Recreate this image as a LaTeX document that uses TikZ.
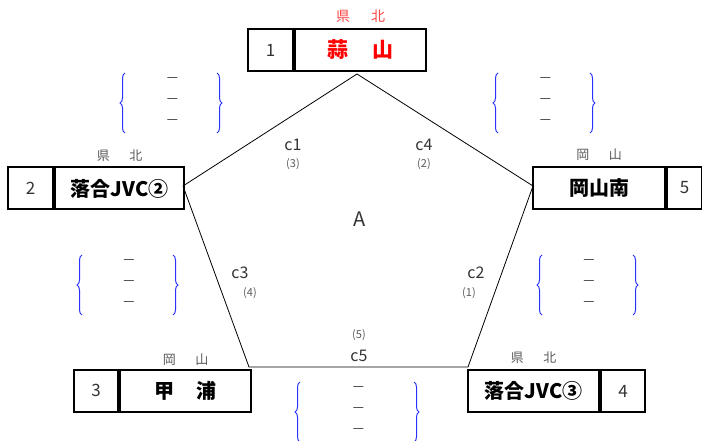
\documentclass[tikz,border=0pt]{standalone}
\usepackage{fontspec}
\setmainfont{Noto Sans CJK JP}
\usepackage{tikz}
\usetikzlibrary{positioning}
\usetikzlibrary{decorations.pathreplacing}
\definecolor{bracecol}{RGB}{40,50,250}
\definecolor{labelgray}{RGB}{90,90,90}
\definecolor{labelred}{RGB}{250,70,70}
\newcommand{\bracegroup}[4]{\draw[curly] (#2,#4+60) -- (#2,#4); \draw[curly] (#3,#4) -- (#3,#4+60);
  \node[scoremark] (#1a) at ({(#2+#3)/2+1.5},#4+7) {—};
  \node[scoremark] (#1b) at ({(#2+#3)/2+1.5},#4+28) {—};
  \node[scoremark] (#1c) at ({(#2+#3)/2+1.5},#4+49) {—};}

\begin{document}
\begin{tikzpicture}[x=1pt, y=-1pt,
    numcell/.style={draw, line width=2pt, minimum height=42pt, minimum width=45pt, inner sep=0pt, font=\fontsize{17}{17}\selectfont, text=black!80},
    namecell/.style={draw, line width=2pt, minimum height=42pt, minimum width=131pt, inner sep=0pt, font=\fontsize{20}{20}\selectfont\bfseries},
    area/.style={inner sep=0pt, font=\fontsize{13}{13}\selectfont, text=labelgray},
    cname/.style={inner sep=0pt, font=\fontsize{16}{16}\selectfont, text=black!80},
    cpar/.style={inner sep=0pt, font=\fontsize{11}{11}\selectfont, text=labelgray},
    curly/.style={draw=bracecol, line width=1pt, decorate, decoration={brace, amplitude=5pt}},
    scoremark/.style={inner sep=0pt, font=\fontsize{12.5}{12.5}\selectfont, text=black!85}]
    \useasboundingbox (0,0) rectangle (702,441);
    % team 1
    \node[numcell] (n1) at (270.5,50) {1};
    \node[namecell, right=0pt of n1, text=red, font=\fontsize{21}{21}\selectfont\bfseries] (t1) {蒜\hspace{1.1em}山};
    \node[area, above=5pt of t1, text=labelred, font=\fontsize{14}{14}\selectfont] (a1) {県\hspace{1.5em}北};
    % team 2
    \node[numcell] (n2) at (30.5,188.5) {2};
    \node[namecell, minimum width=129pt, right=0pt of n2] (t2) {落合JVC②};
    \node[area, above=5pt of t2] (a2) {県\hspace{1.5em}北};
    % team 3
    \node[numcell, minimum width=44pt] (n3) at (96,390.5) {3};
    \node[namecell, right=0pt of n3] (t3) {甲\hspace{1.1em}浦};
    \node[area, above=3pt of t3] (a3) {岡\hspace{1.5em}山};
    % team 4
    \node[namecell] (t4) at (533.5,391) {落合JVC③};
    \node[numcell, minimum width=44pt, right=0pt of t4] (n4) {4};
    \node[area, above=5pt of t4] (a4) {県\hspace{1.5em}北};
    % team 5
    \node[namecell, minimum width=132pt] (t5) at (599,188) {岡山南};
    \node[numcell, minimum width=35pt, right=0pt of t5] (n5) {5};
    \node[area, above=5pt of t5] (a5) {岡\hspace{1.5em}山};
    % league
    \coordinate (p1) at (357,74);
    \coordinate (p2) at (533,186);
    \coordinate (p3) at (468,367);
    \coordinate (p4) at (249,367);
    \coordinate (p5) at (183,186);
    \draw[line width=0.8pt] (p1) -- (p2) -- (p3) -- (p4) -- (p5) -- cycle;
    \node[inner sep=0pt, font=\fontsize{20}{20}\selectfont, text=black!80] (lg) at (360,219) {A};
    \node[cname] (c1) at (293,145) {c1};
    \node[cpar] (r1) at (293,164) {(3)};
    \node[cname] (c4) at (424,145) {c4};
    \node[cpar] (r4) at (424,164) {(2)};
    \node[cname] (c3) at (240,273) {c3};
    \node[cpar] (r3) at (250,293) {(4)};
    \node[cname] (c2) at (476,273) {c2};
    \node[cpar] (r2) at (469,293) {(1)};
    \node[cpar] (r5) at (359,335) {(5)};
    \node[cname] (c5) at (359,356) {c5};
    % scores
    \bracegroup{s1}{125}{217}{73}
    \bracegroup{s2}{498}{590}{73}
    \bracegroup{s3}{82}{173}{255}
    \bracegroup{s4}{542}{633}{255}
    \bracegroup{s5}{300}{414}{382}
\end{tikzpicture}
\end{document}
